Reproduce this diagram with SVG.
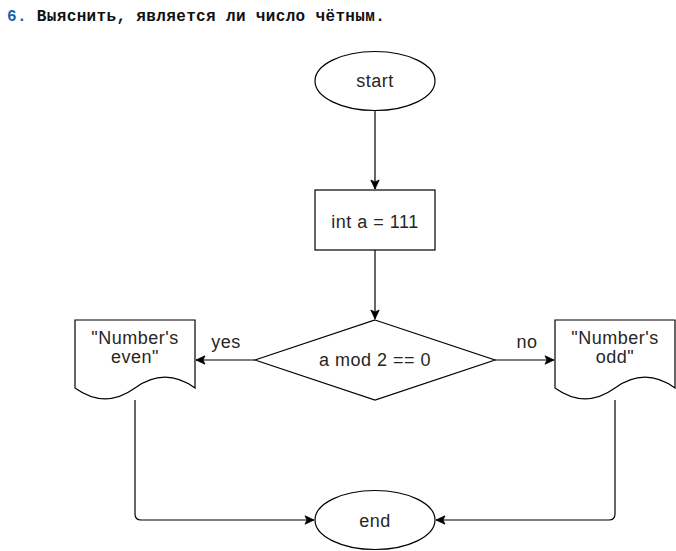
<svg xmlns="http://www.w3.org/2000/svg" width="676" height="551" viewBox="0 0 676 551">
<style>
.shape{fill:#ffffff;stroke:#000000;stroke-width:1.2}
.lbl{font-family:"Liberation Sans",Arial,sans-serif;font-size:18px;letter-spacing:0.5px;fill:#262626;text-anchor:middle}
.edge{fill:none;stroke:#000000;stroke-width:1.2}
.title{font-family:"Liberation Mono","DejaVu Sans Mono",monospace;font-size:16px;font-weight:bold;letter-spacing:0.35px;fill:#111111}
</style>
<defs>
<marker id="arr" markerUnits="userSpaceOnUse" markerWidth="12" markerHeight="10" refX="10" refY="5" orient="auto">
<path d="M10,5 L1,0.8 L3,5 L1,9.2 Z" fill="#000000" stroke="#000000" stroke-width="0.8"/>
</marker>
</defs>
<rect width="676" height="551" fill="#ffffff"/>
<text class="title" x="7" y="21"><tspan fill="#1c5fb0">6.</tspan> Выяснить, является ли число чётным.</text>
<g id="connectors">
<path class="edge" d="M375,111 V189" marker-end="url(#arr)"/>
<path class="edge" d="M375,250 V319" marker-end="url(#arr)"/>
<path class="edge" d="M255,360 H196" marker-end="url(#arr)"/>
<path class="edge" d="M495,360 H554" marker-end="url(#arr)"/>
<path class="edge" d="M135,400 V514 Q135,520 141,520 H314" marker-end="url(#arr)"/>
<path class="edge" d="M615,400 V514 Q615,520 609,520 H436" marker-end="url(#arr)"/>
<text class="lbl" x="226" y="348">yes</text>
<text class="lbl" x="527" y="348">no</text>
</g>
<g id="start">
<ellipse class="shape" cx="375" cy="81" rx="60" ry="29.5"/>
<text class="lbl" x="375" y="87">start</text>
</g>
<g id="init">
<rect class="shape" x="315" y="190" width="120" height="60"/>
<text class="lbl" x="375" y="228">int a = 111</text>
</g>
<g id="check">
<path class="shape" d="M375,320 L495,360 L375,400 L255,360 Z"/>
<text class="lbl" x="375" y="366">a mod 2 == 0</text>
</g>
<g id="even">
<path class="shape" d="M75,320 H195 V388 Q165,366.4 135,388 Q105,409.6 75,388 Z"/>
<text class="lbl" x="135" y="344">"Number's</text>
<text class="lbl" x="135" y="363">even"</text>
</g>
<g id="odd">
<path class="shape" d="M555,320 H675 V388 Q645,366.4 615,388 Q585,409.6 555,388 Z"/>
<text class="lbl" x="615" y="344">"Number's</text>
<text class="lbl" x="615" y="363">odd"</text>
</g>
<g id="end">
<ellipse class="shape" cx="375" cy="520" rx="60" ry="29.5"/>
<text class="lbl" x="375" y="527">end</text>
</g>
</svg>
